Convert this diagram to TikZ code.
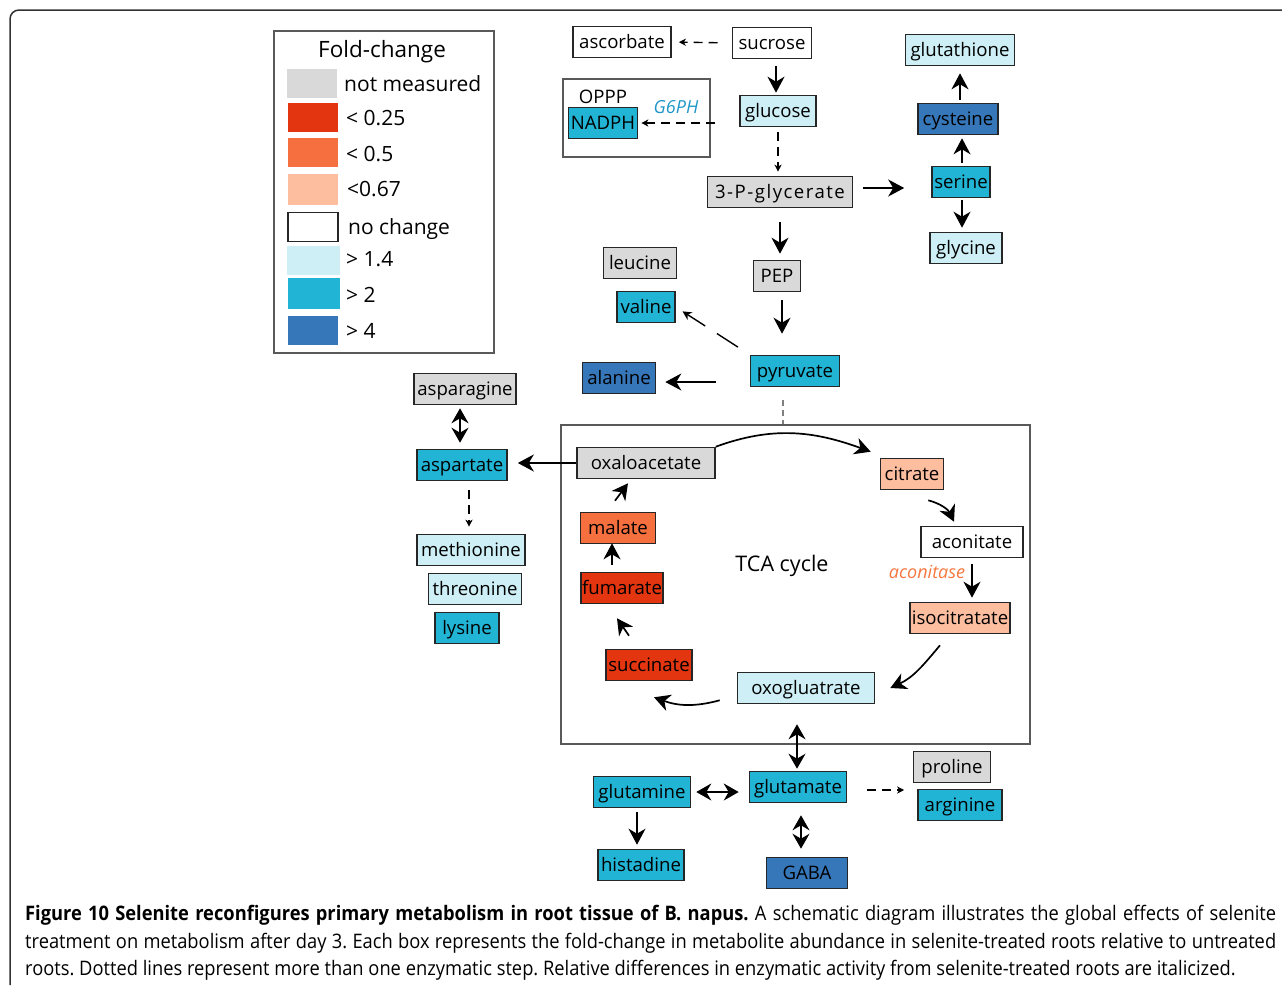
\documentclass[tikz,border=0pt]{standalone}
\usepackage{fontspec}
\setmainfont{Open Sans}
\newfontfamily\capfont[FakeStretch=0.915]{Open Sans}
\usetikzlibrary{arrows.meta}
\frenchspacing

\definecolor{nmgray}{HTML}{D9D9D9}
\definecolor{redA}{HTML}{E3350F}
\definecolor{orangeA}{HTML}{F6703F}
\definecolor{peachA}{HTML}{FDBEA0}
\definecolor{cyanL}{HTML}{CDEFF5}
\definecolor{cyanM}{HTML}{22B4D5}
\definecolor{blueD}{HTML}{3677BA}
\definecolor{enzblue}{HTML}{1F96C8}
\definecolor{enzorange}{HTML}{F5773F}

\tikzset{
  box/.style={draw=black!85, line width=1.6pt, minimum height=31pt, inner sep=0pt,
    text height=14pt, text depth=2pt, font=\fontsize{18.6}{20}\selectfont},
  frame/.style={draw=black!65, line width=1.3pt},
  swatch/.style={minimum width=50pt, minimum height=29pt, inner sep=0pt},
  leglabel/.style={anchor=west, inner sep=0pt, font=\fontsize{21}{23}\selectfont},
  big/.style={line width=1.7pt, -{Stealth[length=16pt,width=17pt,inset=5pt]}},
  twoway/.style={line width=1.7pt,
    {Stealth[length=15pt,width=17pt,inset=5pt]}-{Stealth[length=15pt,width=17pt,inset=5pt]}},
  dsh/.style={line width=1.4pt, dash pattern=on 9pt off 6pt,
    -{Stealth[length=7pt,width=7pt,inset=2pt]}},
  enz/.style={inner sep=0pt, font=\itshape\fontsize{18}{20}\selectfont},
}

\begin{document}
\begin{tikzpicture}[x=1pt,y=-1pt]
\useasboundingbox (0,0) rectangle (1282,985);
\draw[draw=black!80, line width=1.5pt, rounded corners=9pt] (10,985) -- (10,10) -- (1282,10);

% legend
\node[frame, minimum width=220pt, minimum height=322pt, inner sep=0pt] (legend) at (384,192) {};
\node[inner sep=0pt, font=\fontsize{22.5}{24}\selectfont] (legtitle) at (382,52) {Fold-change};
\node[swatch, fill=nmgray] (sw1) at (312,83) {};
\node[swatch, fill=redA] (sw2) at (313,117) {};
\node[swatch, fill=orangeA] (sw3) at (313,152) {};
\node[swatch, fill=peachA, minimum height=31pt] (sw4) at (313,189) {};
\node[swatch, draw=black!85, line width=1.6pt, fill=white] (sw5) at (313,227) {};
\node[swatch, fill=cyanL, minimum width=53pt] (sw6) at (313,260) {};
\node[swatch, fill=cyanM, minimum width=52pt, minimum height=31pt] (sw7) at (314,293) {};
\node[swatch, fill=blueD] (sw8) at (313,330) {};
\node[leglabel] at (344,84) {not measured};
\node[leglabel] at (346,118) {< 0.25};
\node[leglabel] at (346,154) {< 0.5};
\node[leglabel] at (347,189) {<0.67};
\node[leglabel] at (348,229) {no change};
\node[leglabel] at (346,259) {> 1.4};
\node[leglabel] at (346,295) {> 2};
\node[leglabel] at (346,331) {> 4};

% frames
\node[frame, minimum width=147pt, minimum height=78pt, inner sep=0pt] (oppp) at (636.5,118) {};
\node[frame, minimum width=469pt, minimum height=319pt, inner sep=0pt] (tca) at (795.5,584.5) {};
\node[inner sep=0pt, font=\fontsize{18.6}{20}\selectfont] (opppname) at (603,97) {OPPP};
\node[inner sep=0pt, font=\fontsize{21.5}{24}\selectfont] (tcaname) at (782,566) {TCA cycle};
\node[enz, text=enzblue] (g6ph) at (676,107) {G6PH};
\node[enz, text=enzorange] (aconitase) at (927,572) {aconitase};

% metabolites
\node[box, fill=white, minimum width=98pt] (ascorbate) at (622,42) {ascorbate};
\node[box, fill=white, minimum width=79pt] (sucrose) at (772,43) {sucrose};
\node[box, fill=cyanM, minimum width=69pt] (NADPH) at (603,123) {NADPH};
\node[box, fill=cyanL, minimum width=76pt] (glucose) at (778,111) {glucose};
\node[box, fill=nmgray, minimum width=145pt] (pg3) at (780,192) {\addfontfeatures{LetterSpace=8}3-P-glycerate};
\node[box, fill=cyanL, minimum width=109pt] (glutathione) at (960,50) {glutathione};
\node[box, fill=blueD, minimum width=80pt] (cysteine) at (958,119) {cysteine};
\node[box, fill=cyanM, minimum width=58pt] (serine) at (961,182) {serine};
\node[box, fill=cyanL, minimum width=72pt] (glycine) at (966,248) {glycine};
\node[box, fill=nmgray, minimum width=73pt] (leucine) at (640,263) {leucine};
\node[box, fill=nmgray, minimum width=47pt] (PEP) at (777,276) {PEP};
\node[box, fill=cyanM, minimum width=58pt] (valine) at (646,307) {valine};
\node[box, fill=cyanM, minimum width=89pt] (pyruvate) at (795,371) {pyruvate};
\node[box, fill=blueD, minimum width=73pt] (alanine) at (619,378) {alanine};
\node[box, fill=nmgray, minimum width=102pt] (asparagine) at (465,389) {asparagine};
\node[box, fill=cyanM, minimum width=90pt] (aspartate) at (462,465) {aspartate};
\node[box, fill=cyanL, minimum width=108pt] (methionine) at (471,550) {methionine};
\node[box, fill=cyanL, minimum width=93pt] (threonine) at (475,589) {threonine};
\node[box, fill=cyanM, minimum width=64pt] (lysine) at (467,628) {lysine};
\node[box, fill=nmgray, minimum width=138pt] (oxalo) at (646,463) {oxaloacetate};
\node[box, fill=peachA, minimum width=63pt] (citrate) at (912,474) {citrate};
\node[box, fill=white, minimum width=102pt] (aconitate) at (972,542) {aconitate};
\node[box, fill=peachA, minimum width=100pt] (isocit) at (960,618) {isocitratate};
\node[box, fill=cyanL, minimum width=137pt] (oxoglu) at (806,688) {oxogluatrate};
\node[box, fill=redA, minimum width=86pt] (succinate) at (649,665) {succinate};
\node[box, fill=redA, minimum width=82pt] (fumarate) at (622,588) {fumarate};
\node[box, fill=orangeA, minimum width=75pt] (malate) at (618,528) {malate};
\node[box, fill=cyanM, minimum width=97pt] (glutamate) at (798,787) {glutamate};
\node[box, fill=cyanM, minimum width=97pt] (glutamine) at (642,792) {glutamine};
\node[box, fill=cyanM, minimum width=86pt] (histadine) at (641,865) {histadine};
\node[box, fill=blueD, minimum width=81pt] (GABA) at (807,873) {GABA};
\node[box, fill=nmgray, minimum width=77pt] (proline) at (952,767) {proline};
\node[box, fill=cyanM, minimum width=84pt] (arginine) at (960,805) {arginine};

% glycolysis
\draw[dsh, shorten <=14pt, shorten >=7pt] (sucrose.west) -- (ascorbate.east);
\draw[big, shorten <=7pt, shorten >=2pt] ([xshift=-2pt]glucose.north |- sucrose.south) -- ([xshift=-2pt]glucose.north);
\draw[dsh, shorten <=24pt, shorten >=3pt] (glucose.west |- NADPH) -- (NADPH.east);
\draw[dsh, shorten <=5pt, shorten >=4pt] (glucose.south) -- (glucose.south |- pg3.north);
\draw[big, shorten <=10pt, shorten >=27pt] ([yshift=4pt]pg3.east) -- ([yshift=4pt]pg3.east -| serine.west);
\draw[big, shorten <=3pt, shorten >=3pt] ([xshift=1pt]serine.north) -- ([xshift=1pt]serine.north |- cysteine.south);
\draw[big, shorten <=2pt, shorten >=4pt] ([xshift=1pt]serine.south) -- ([xshift=1pt]serine.south |- glycine.north);
\draw[big, shorten <=3pt, shorten >=7pt] ([xshift=2pt]cysteine.north) -- ([xshift=2pt]cysteine.north |- glutathione.south);
\draw[big, shorten <=14pt, shorten >=6pt] (pg3.south) -- (pg3.south |- PEP.north);
\draw[big, shorten <=8pt, shorten >=21pt] ([xshift=5pt]PEP.south) -- ([xshift=5pt]PEP.south |- pyruvate.north);
\draw[line width=1.4pt, dash pattern=on 25pt off 14pt, -{Stealth[length=9pt,width=9pt,inset=3pt]},
  shorten <=14pt, shorten >=8pt] (pyruvate.north west) -- (valine.east);
\draw[big, shorten <=34pt, shorten >=9pt] ([yshift=-4pt]pyruvate.west |- alanine) -- ([yshift=-4pt]alanine.east);
\draw[draw=black!50, line width=1.3pt, dash pattern=on 6pt off 4pt, shorten <=13pt]
  ([xshift=-12pt]pyruvate.south) -- ([xshift=-12pt]pyruvate.south |- tca.north);

% TCA cycle
\draw[big] (oxalo.north east) to[out=20,in=160] ([shift={(-9,-6)}]citrate.north west);
\draw[big] ([shift={(-16,10)}]citrate.south east) to[bend left=25] ([shift={(-18,-4)}]aconitate.north);
\draw[big, shorten <=6pt, shorten >=4pt] (aconitate.south) -- (aconitate.south |- isocit.north);
\draw[big] ([shift={(-20,11)}]isocit.south) to[out=230,in=25] ([shift={(15,0)}]oxoglu.east);
\draw[big] ([shift={(-17,-4)}]oxoglu.south west) to[out=195,in=-20] ([shift={(5,16)}]succinate.south);
\draw[big] ([shift={(-20,-13)}]succinate.north) -- ([shift={(-5,14)}]fumarate.south);
\draw[big] ([shift={(-10,-7)}]fumarate.north) -- ([shift={(-6,-1)}]malate.south);
\draw[big] ([shift={(-3,-11)}]malate.north) -- ([shift={(-18,4)}]oxalo.south);

% amino acids
\draw[big, shorten >=10pt] (oxalo.west) -- (oxalo.west -| aspartate.east);
\draw[twoway, shorten <=3pt, shorten >=6pt] ([xshift=-5pt]asparagine.south) -- ([xshift=-5pt]asparagine.south |- aspartate.north);
\draw[dsh, shorten <=9pt, shorten >=7pt] ([xshift=-2pt]methionine.north |- aspartate.south) -- ([xshift=-2pt]methionine.north);
\draw[twoway, shorten <=20pt, shorten >=2pt] ([xshift=-1pt]glutamate.north |- oxoglu.south) -- ([xshift=-1pt]glutamate.north);
\draw[twoway, shorten <=5pt, shorten >=10pt] (glutamine.east) -- (glutamine.east -| glutamate.west);
\draw[big, shorten <=4pt, shorten >=4pt] ([xshift=-5pt]glutamine.south) -- ([xshift=-5pt]glutamine.south |- histadine.north);
\draw[twoway, shorten <=12pt, shorten >=8pt] ([xshift=3pt]glutamate.south) -- ([xshift=3pt]glutamate.south |- GABA.north);
\draw[dsh, shorten <=20pt, shorten >=13pt] ([yshift=-3pt]glutamate.east) -- ([yshift=-3pt]glutamate.east -| arginine.west);

% caption
\node[anchor=north west, inner sep=0pt, text width=1251pt, align=justify,
  font=\capfont\fontsize{20}{27.5}\selectfont] (caption) at (25,905)
  {\textbf{Figure 10 Selenite reconfigures primary metabolism in root tissue of B.~napus.} A schematic diagram illustrates the global effects of selenite\linebreak
  treatment on metabolism after day 3. Each box represents the fold-change in metabolite abundance in selenite-treated roots relative to untreated\linebreak
  roots. Dotted lines represent more than one enzymatic step. Relative differences in enzymatic activity from selenite-treated roots are italicized.};
\end{tikzpicture}
\end{document}
